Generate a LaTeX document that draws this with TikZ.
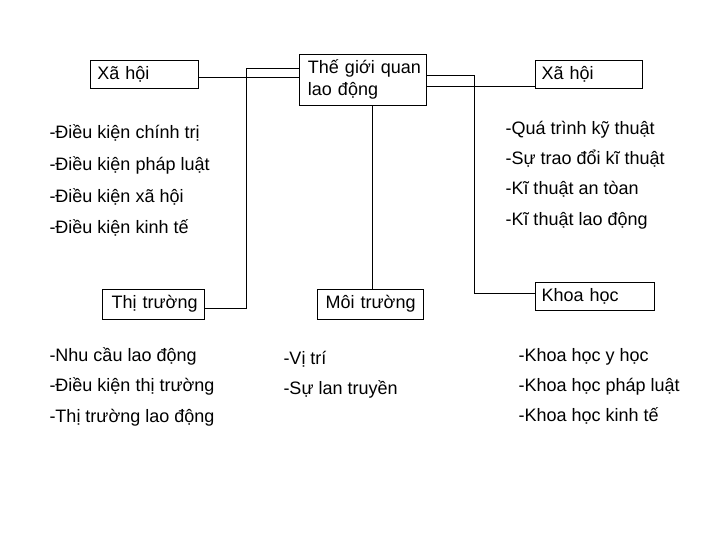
\documentclass[tikz,border=0pt]{standalone}
\usepackage{fontspec}
\setmainfont{Liberation Sans}
\usepackage{tikz}

\begin{document}
\begin{tikzpicture}[x=0.75pt,y=0.75pt,yscale=-1,xscale=1,line width=0.75pt,
		every node/.style={font=\fontsize{13.5}{16.7}\selectfont},
		khung/.style={draw, align=left, inner ysep=0pt, text height=9.5pt, text depth=2.5pt},
		dong/.style={anchor=base west, inner sep=0pt}]
			\useasboundingbox (0,0) rectangle (720,540);

			% Boxes
			\node [khung, inner xsep=5.5pt, text width=70pt, minimum height=21.2pt] (xhTrai) at (144,74.85) {\mbox{Xã hội}};
			\node [draw, align=left, inner ysep=0pt, inner xsep=6pt, text width=82.9pt, minimum height=38.25pt] (tgq) at (363.25,79.5) {\mbox{Thế giới quan}\\\mbox{lao động}};
			\node [khung, inner xsep=5pt, text width=70.25pt, minimum height=21.2pt] (xhPhai) at (588.5,74.85) {\mbox{Xã hội}};
			\node [khung, inner xsep=6.75pt, text width=62.5pt, minimum height=22.5pt] (thiTruong) at (153.35,304) {\mbox{Thị trường}};
			\node [khung, inner xsep=5.8pt, text width=67.2pt, minimum height=22.5pt] (moiTruong) at (370.5,304) {\mbox{Môi trường}};
			\node [khung, inner xsep=5pt, text width=79.25pt, minimum height=21.2pt] (khoaHoc) at (594.5,296.85) {\mbox{Khoa học}};

			%Straight Lines
			\draw ([yshift=2.1pt]xhTrai.east) -- ([yshift=2.1pt]xhTrai.east -| tgq.west);
			\draw ([yshift=5.6pt]tgq.east) -- ([yshift=5.6pt]tgq.east -| xhPhai.west);
			\draw ([xshift=7.1pt]tgq.south) -- ([xshift=7.1pt]tgq.south |- moiTruong.north);
			%Elbow Lines
			\draw ([yshift=-8.4pt]tgq.west) -- ++(-53.3,0) |- ([yshift=3pt]thiTruong.east);
			\draw ([yshift=-2.85pt]tgq.east) -- ++(47.8,0) |- ([yshift=-2.4pt]khoaHoc.west);

			% Text Node
			\node [dong] (xh1) at (49,138.7) {-Điều kiện chính trị};
			% Text Node
			\node [dong] (xh2) at (49,170.5) {-Điều kiện pháp luật};
			% Text Node
			\node [dong] (xh3) at (49,202) {-Điều kiện xã hội};
			% Text Node
			\node [dong] (xh4) at (49,233) {-Điều kiện kinh tế};

			% Text Node
			\node [dong] (kt1) at (505,134.7) {-Quá trình kỹ thuật};
			% Text Node
			\node [dong] (kt2) at (505,164.5) {-Sự trao đổi kĩ thuật};
			% Text Node
			\node [dong] (kt3) at (505,194.7) {-Kĩ thuật an tòan};
			% Text Node
			\node [dong] (kt4) at (505,225) {-Kĩ thuật lao động};

			% Text Node
			\node [dong] (tt1) at (49,361) {-Nhu cầu lao động};
			% Text Node
			\node [dong] (tt2) at (49,391.5) {-Điều kiện thị trường};
			% Text Node
			\node [dong] (tt3) at (49,422) {-Thị trường lao động};

			% Text Node
			\node [dong] (mt1) at (283,364) {-Vị trí};
			% Text Node
			\node [dong] (mt2) at (283,394.7) {-Sự lan truyền};

			% Text Node
			\node [dong] (kh1) at (518,361) {-Khoa học y học};
			% Text Node
			\node [dong] (kh2) at (518,391) {-Khoa học pháp luật};
			% Text Node
			\node [dong] (kh3) at (518,421) {-Khoa học kinh tế};
		\end{tikzpicture}
\end{document}
